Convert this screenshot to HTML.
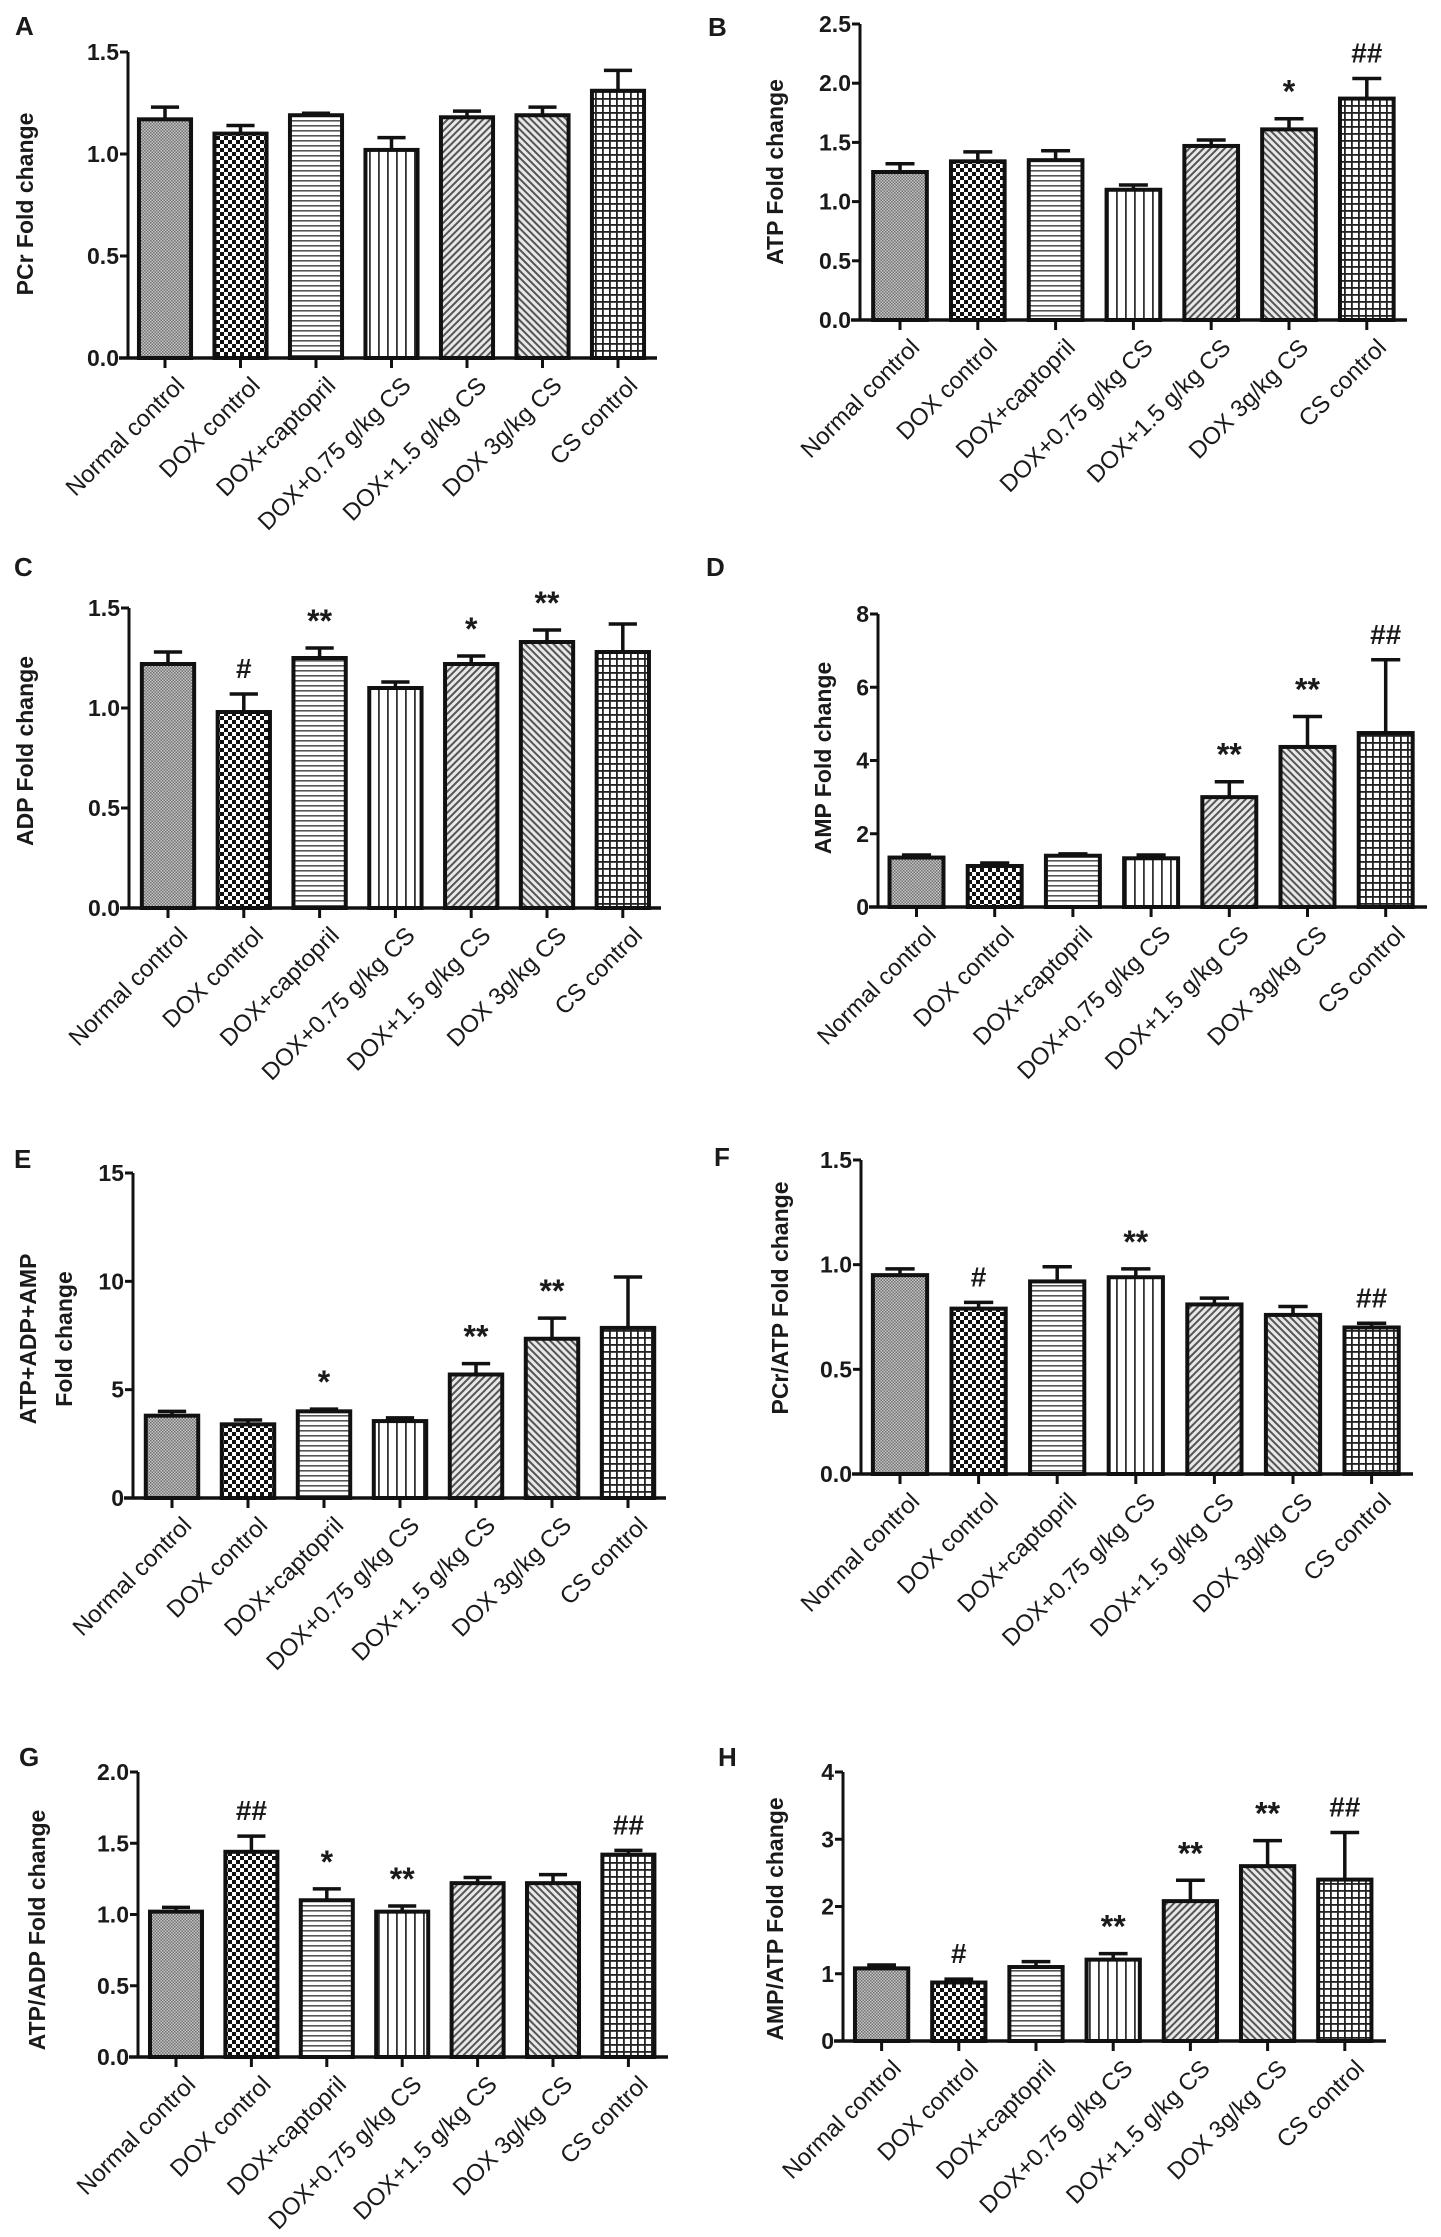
<!DOCTYPE html>
<html><head><meta charset="utf-8"><style>
html,body{margin:0;padding:0;background:#fff;}
svg{display:block;}
text{font-family:"Liberation Sans",Arial,sans-serif;fill:#1a1a1a;}
</style></head><body>
<svg id="fig" width="1441" height="2237" viewBox="0 0 1441 2237" xmlns="http://www.w3.org/2000/svg">
<defs>
<pattern id="p0" width="3" height="3" patternUnits="userSpaceOnUse"><rect width="3" height="3" fill="#c8c8c8"/><rect width="1.5" height="1.5" fill="#707070"/><rect x="1.5" y="1.5" width="1.5" height="1.5" fill="#707070"/></pattern>
<pattern id="p1" width="8" height="8" patternUnits="userSpaceOnUse"><rect width="8" height="8" fill="#fff"/><rect width="4" height="4" fill="#111"/><rect x="4" y="4" width="4" height="4" fill="#111"/></pattern>
<pattern id="p2" width="5" height="5" patternUnits="userSpaceOnUse"><rect width="5" height="5" fill="#fff"/><rect y="0" width="5" height="1.6" fill="#555"/></pattern>
<pattern id="p3" width="9" height="9" patternUnits="userSpaceOnUse"><rect width="9" height="9" fill="#fff"/><rect x="0" width="1.8" height="9" fill="#333"/></pattern>
<pattern id="p4" width="5" height="5" patternUnits="userSpaceOnUse" patternTransform="rotate(45)"><rect width="5" height="5" fill="#e8e8e8"/><rect width="2" height="5" fill="#555"/></pattern>
<pattern id="p5" width="5" height="5" patternUnits="userSpaceOnUse" patternTransform="rotate(-45)"><rect width="5" height="5" fill="#e8e8e8"/><rect width="2" height="5" fill="#555"/></pattern>
<pattern id="p6" width="7" height="7" patternUnits="userSpaceOnUse"><rect width="7" height="7" fill="#fff"/><rect width="7" height="1.8" fill="#222"/><rect width="1.8" height="7" fill="#222"/></pattern>
</defs>
</svg>
<script>
const categories = ["Normal control","DOX control","DOX+captopril","DOX+0.75 g/kg CS","DOX+1.5 g/kg CS","DOX 3g/kg CS","CS control"];

const valuesA = [1.17,1.10,1.19,1.02,1.18,1.19,1.31];
const errTopA = [1.23,1.14,1.20,1.08,1.21,1.23,1.41];
const marksA = ["","","","","","",""];
const ticksA = ["0.0","0.5","1.0","1.5"];

const valuesB = [1.25,1.34,1.35,1.10,1.47,1.61,1.87];
const errTopB = [1.32,1.42,1.43,1.14,1.52,1.70,2.04];
const marksB = ["","","","","","*","##"];
const ticksB = ["0.0","0.5","1.0","1.5","2.0","2.5"];

const valuesC = [1.22,0.98,1.25,1.10,1.22,1.33,1.28];
const errTopC = [1.28,1.07,1.30,1.13,1.26,1.39,1.42];
const marksC = ["","#","**","","*","**",""];
const ticksC = ["0.0","0.5","1.0","1.5"];

const valuesD = [1.35,1.12,1.40,1.33,3.0,4.37,4.75];
const errTopD = [1.42,1.20,1.45,1.42,3.42,5.2,6.75];
const marksD = ["","","","","**","**","##"];
const ticksD = ["0","2","4","6","8"];

const valuesE = [3.8,3.4,4.0,3.55,5.7,7.35,7.85];
const errTopE = [4.0,3.6,4.1,3.7,6.2,8.3,10.2];
const marksE = ["","","*","","**","**",""];
const ticksE = ["0","5","10","15"];

const valuesF = [0.95,0.79,0.92,0.94,0.81,0.76,0.70];
const errTopF = [0.98,0.82,0.99,0.98,0.84,0.80,0.72];
const marksF = ["","#","","**","","","##"];
const ticksF = ["0.0","0.5","1.0","1.5"];

const valuesG = [1.02,1.44,1.10,1.02,1.22,1.22,1.42];
const errTopG = [1.05,1.55,1.18,1.06,1.26,1.28,1.45];
const marksG = ["","##","*","**","","","##"];
const ticksG = ["0.0","0.5","1.0","1.5","2.0"];

const valuesH = [1.08,0.87,1.10,1.21,2.08,2.60,2.40];
const errTopH = [1.13,0.92,1.18,1.30,2.39,2.98,3.10];
const marksH = ["","#","","**","**","**","##"];
const ticksH = ["0","1","2","3","4"];

const NS="http://www.w3.org/2000/svg";
const svg=document.getElementById('fig');
function el(tag,attrs,parent){const e=document.createElementNS(NS,tag);for(const k in attrs)e.setAttribute(k,attrs[k]);(parent||svg).appendChild(e);return e;}

const panels=[
 {id:"a",letter:"A",lx:15,ly:35,x0:128,xEnd:657,yTop:52,yBot:358,c0:165,sp:75.5,ylab:["PCr  Fold change"],ylx:[25],yly:204,v:valuesA,e:errTopA,m:marksA,t:ticksA},
 {id:"b",letter:"B",lx:708,ly:36,x0:860,xEnd:1407,yTop:24,yBot:320,c0:900,sp:77.8,ylab:["ATP  Fold change"],ylx:[775],yly:172,v:valuesB,e:errTopB,m:marksB,t:ticksB},
 {id:"c",letter:"C",lx:14,ly:576,x0:129,xEnd:661,yTop:608,yBot:908,c0:168,sp:75.8,ylab:["ADP  Fold change"],ylx:[25],yly:751,v:valuesC,e:errTopC,m:marksC,t:ticksC},
 {id:"d",letter:"D",lx:706,ly:576,x0:878,xEnd:1427,yTop:614,yBot:907,c0:916.5,sp:78.2,ylab:["AMP Fold change"],ylx:[823],yly:758,v:valuesD,e:errTopD,m:marksD,t:ticksD},
 {id:"e",letter:"E",lx:14,ly:1168,x0:133,xEnd:666,yTop:1173,yBot:1498,c0:172,sp:76,ylab:["ATP+ADP+AMP","Fold change"],ylx:[28,64],yly:1339,v:valuesE,e:errTopE,m:marksE,t:ticksE},
 {id:"f",letter:"F",lx:714,ly:1166,x0:861,xEnd:1413,yTop:1160,yBot:1474,c0:900,sp:78.6,ylab:["PCr/ATP Fold change"],ylx:[780],yly:1298,v:valuesF,e:errTopF,m:marksF,t:ticksF},
 {id:"g",letter:"G",lx:19,ly:1766,x0:138,xEnd:668,yTop:1772,yBot:2057,c0:176,sp:75.4,ylab:["ATP/ADP Fold change"],ylx:[37],yly:1930,v:valuesG,e:errTopG,m:marksG,t:ticksG},
 {id:"h",letter:"H",lx:718,ly:1766,x0:843,xEnd:1386,yTop:1772,yBot:2041,c0:881.6,sp:77.2,ylab:["AMP/ATP  Fold change"],ylx:[775],yly:1919,v:valuesH,e:errTopH,m:marksH,t:ticksH}
];

panels.forEach(p=>{
  const g=el('g',{});
  
  
  const tmax=parseFloat(p.t[p.t.length-1]);
  const y=v=>p.yBot-(v/tmax)*(p.yBot-p.yTop);
  const x=i=>p.c0+i*p.sp;
  const bw=p.sp*0.69;
  const L=el('text',{x:p.lx,y:p.ly,'font-size':26,'font-weight':'bold'},g);L.textContent=p.letter;
  
  
  p.ylab.forEach((s,k)=>{
    const t=el('text',{x:p.ylx[k],y:p.yly,'font-size':23,'font-weight':'bold','text-anchor':'middle','dominant-baseline':'central',transform:`rotate(-90 ${p.ylx[k]} ${p.yly})`},g);
    t.textContent=s;
    
    
  });
  p.v.forEach((v,i)=>{
    const cx=x(i);
    const eb=el('path',{d:`M${cx} ${y(v)} V${y(p.e[i])} M${cx-bw*0.27} ${y(p.e[i])} H${cx+bw*0.27}`,stroke:'#111','stroke-width':3.5,fill:'none'},g);
    
    
    const r=el('rect',{x:cx-bw/2,y:y(v),width:bw,height:p.yBot-y(v),fill:`url(#p${i})`,stroke:'#111','stroke-width':4},g);
    
    
    if(p.m[i]){
      const mt=el('text',{x:cx,y:y(p.e[i])-16,'font-size':p.m[i].startsWith('#')?28:32,'font-weight':'bold','text-anchor':'middle'},g);
      mt.textContent=p.m[i];
      
      
    }
    const tk=el('line',{x1:cx,y1:p.yBot,x2:cx,y2:p.yBot+10,stroke:'#111','stroke-width':3},g);
    
    
    const ax=cx+9, ay=p.yBot+17;
    const ct=el('text',{x:ax,y:ay,'font-size':24,'text-anchor':'end','dominant-baseline':'hanging',transform:`rotate(-45 ${ax} ${ay})`},g);
    ct.textContent=categories[i];
    
    
  });
  const ya=el('line',{x1:p.x0,y1:p.yTop,x2:p.x0,y2:p.yBot+1.5,stroke:'#111','stroke-width':3},g);
  
  
  const xa=el('line',{x1:p.x0-9,y1:p.yBot,x2:p.xEnd,y2:p.yBot,stroke:'#111','stroke-width':3.5},g);
  
  
  p.t.forEach(s=>{
    const ty=y(parseFloat(s));
    const tl=el('line',{x1:p.x0-8,y1:ty,x2:p.x0,y2:ty,stroke:'#111','stroke-width':3},g);
    
    
    const tt=el('text',{x:p.x0-9,y:ty,'font-size':23,'font-weight':'bold','text-anchor':'end','dominant-baseline':'central'},g);
    tt.textContent=s;
    
    
  });
});
</script>
</body></html>
